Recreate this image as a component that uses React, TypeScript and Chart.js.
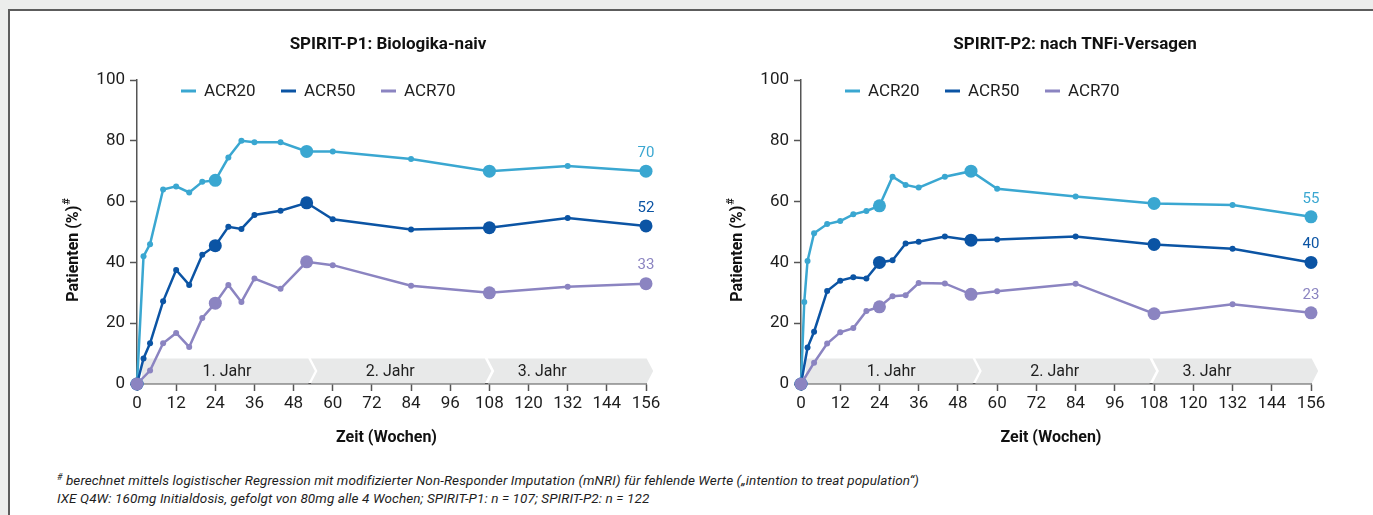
import React, { useEffect, useRef } from 'react';
import { Chart, registerables } from 'chart.js';

Chart.register(...registerables);

// ---------- data ----------
const SERIES_NAMES = ['ACR20', 'ACR50', 'ACR70'];
const SERIES_COLORS = ['#3aa7d1', '#0b54a4', '#8b84c1'];
const BIG_WEEKS = [0, 24, 52, 108, 156];

const X_MIN = 0;
const X_MAX = 156;
const X_STEP = 12;
const Y_MIN = 0;
const Y_MAX = 100;
const Y_STEP = 20;

// SPIRIT-P1
const P1_TITLE = 'SPIRIT-P1: Biologika-naiv';
const P1_ACR20_WEEKS = [0, 2, 4, 8, 12, 16, 20, 24, 28, 32, 36, 44, 52, 60, 84, 108, 132, 156];
const P1_ACR20 = [0, 42, 46, 64, 65, 63, 66.5, 67, 74.5, 80, 79.5, 79.5, 76.5, 76.5, 74, 70, 71.7, 70];
const P1_ACR50_WEEKS = [0, 2, 4, 8, 12, 16, 20, 24, 28, 32, 36, 44, 52, 60, 84, 108, 132, 156];
const P1_ACR50 = [0, 8.4, 13.4, 27.2, 37.5, 32.6, 42.5, 45.5, 51.7, 51, 55.6, 57, 59.6, 54.2, 50.8, 51.4, 54.6, 52];
const P1_ACR70_WEEKS = [0, 4, 8, 12, 16, 20, 24, 28, 32, 36, 44, 52, 60, 84, 108, 132, 156];
const P1_ACR70 = [0, 4.4, 13.4, 16.8, 12.2, 21.7, 26.6, 32.6, 27, 34.7, 31.3, 40.2, 39.1, 32.3, 30, 32, 33];

// SPIRIT-P2
const P2_TITLE = 'SPIRIT-P2: nach TNFi-Versagen';
const P2_ACR20_WEEKS = [0, 1, 2, 4, 8, 12, 16, 20, 24, 28, 32, 36, 44, 52, 60, 84, 108, 132, 156];
const P2_ACR20 = [0, 27, 40.5, 49.6, 52.6, 53.6, 55.8, 56.9, 58.6, 68.2, 65.5, 64.6, 68.2, 70, 64.2, 61.7, 59.4, 58.9, 55];
const P2_ACR50_WEEKS = [0, 2, 4, 8, 12, 16, 20, 24, 28, 32, 36, 44, 52, 60, 84, 108, 132, 156];
const P2_ACR50 = [0, 12, 17.2, 30.6, 34, 35.1, 34.7, 40, 40.7, 46.2, 46.8, 48.5, 47.3, 47.5, 48.5, 45.9, 44.5, 40];
const P2_ACR70_WEEKS = [0, 4, 8, 12, 16, 20, 24, 28, 32, 36, 44, 52, 60, 84, 108, 132, 156];
const P2_ACR70 = [0, 7, 13.3, 17, 18.4, 24, 25.4, 28.9, 29.2, 33.2, 33.1, 29.5, 30.5, 33, 23.1, 26.2, 23.4];

// year bands (in weeks)
const BAND_LABELS = ['1. Jahr', '2. Jahr', '3. Jahr'];
const BAND_STARTS = [1.5, 53.3, 107.5];
const BAND_ENDS = [54.5, 108.6, 158.2];
const BAND_LABEL_WEEKS = [27.6, 77.6, 124.2];
const BAND_HEIGHT = 8.4;

const Y_TITLE = 'Patienten (%)';
const Y_TITLE_SUP = '#';
const X_TITLE = 'Zeit (Wochen)';

const FONT = "Roboto, 'Liberation Sans', sans-serif";
const TEXT = '#1e1e1e';
const AXIS = '#555555';

type PanelDef = {
  title: string;
  weeks: number[][];
  values: number[][];
  canvasLeft: number;
  yWidth: number;
  padRight: number;
  titleX: number;
};

const PANELS: PanelDef[] = [
  {
    title: P1_TITLE,
    weeks: [P1_ACR20_WEEKS, P1_ACR50_WEEKS, P1_ACR70_WEEKS],
    values: [P1_ACR20, P1_ACR50, P1_ACR70],
    canvasLeft: 10,
    yWidth: 127,
    padRight: 44,
    titleX: 378,
  },
  {
    title: P2_TITLE,
    weeks: [P2_ACR20_WEEKS, P2_ACR50_WEEKS, P2_ACR70_WEEKS],
    values: [P2_ACR20, P2_ACR50, P2_ACR70],
    canvasLeft: 690,
    yWidth: 111,
    padRight: 59,
    titleX: 385,
  },
];

const CANVAS_W = 680;
const CANVAS_H = 440;
const CANVAS_TOP = 20;

const bandsPlugin = {
  id: 'yearBands',
  beforeDatasetsDraw(chart: any) {
    const { ctx, scales } = chart;
    const x = scales.x;
    const y = scales.y;
    const bottom = y.getPixelForValue(0) - 0.5;
    const top = y.getPixelForValue(BAND_HEIGHT);
    const mid = (top + bottom) / 2;
    const d = 6.5;
    ctx.save();
    ctx.fillStyle = '#e8e9e9';
    for (let i = 0; i < BAND_LABELS.length; i++) {
      const xs = x.getPixelForValue(BAND_STARTS[i]);
      const xe = x.getPixelForValue(BAND_ENDS[i]);
      ctx.beginPath();
      ctx.moveTo(xs, top);
      ctx.lineTo(xe - d, top);
      ctx.lineTo(xe, mid);
      ctx.lineTo(xe - d, bottom);
      ctx.lineTo(xs, bottom);
      if (i > 0) ctx.lineTo(xs + d, mid);
      ctx.closePath();
      ctx.fill();
    }
    ctx.fillStyle = TEXT;
    ctx.font = `16px ${FONT}`;
    ctx.textAlign = 'center';
    ctx.textBaseline = 'middle';
    for (let i = 0; i < BAND_LABELS.length; i++) {
      ctx.fillText(BAND_LABELS[i], x.getPixelForValue(BAND_LABEL_WEEKS[i]), mid + 1);
    }
    ctx.restore();
  },
};

const decorPlugin = {
  id: 'decor',
  afterDatasetsDraw(chart: any) {
    const { ctx } = chart;
    ctx.save();
    ctx.font = `15px ${FONT}`;
    ctx.textAlign = 'center';
    ctx.textBaseline = 'middle';
    chart.data.datasets.forEach((ds: any, i: number) => {
      const meta = chart.getDatasetMeta(i);
      const pts = meta.data;
      const last = pts[pts.length - 1];
      const raw = ds.data[ds.data.length - 1];
      ctx.fillStyle = ds.borderColor;
      ctx.fillText(String(Math.round(raw.y)), last.x, last.y - 18);
    });
    ctx.restore();
  },
  afterDraw(chart: any) {
    const { ctx, chartArea } = chart;
    const opts = chart.options.plugins.decor;
    ctx.save();
    // chart title
    ctx.fillStyle = '#111';
    ctx.font = `bold 17px ${FONT}`;
    ctx.textAlign = 'center';
    ctx.textBaseline = 'middle';
    ctx.fillText(opts.title, opts.titleX, 25);
    // x title
    ctx.font = `bold 16px ${FONT}`;
    ctx.fillText(X_TITLE, (chartArea.left + chartArea.right) / 2 - 5, chartArea.bottom + 54);
    // y title with superscript
    ctx.translate(chartArea.left - 63, (chartArea.top + chartArea.bottom) / 2 + 18);
    ctx.rotate(-Math.PI / 2);
    ctx.font = `bold 16px ${FONT}`;
    const w1 = ctx.measureText(Y_TITLE).width;
    ctx.font = `bold 11px ${FONT}`;
    const w2 = ctx.measureText(Y_TITLE_SUP).width;
    const start = -(w1 + w2 + 1) / 2;
    ctx.textAlign = 'left';
    ctx.font = `bold 16px ${FONT}`;
    ctx.fillText(Y_TITLE, start, 0);
    ctx.font = `bold 11px ${FONT}`;
    ctx.fillText(Y_TITLE_SUP, start + w1 + 1, -7);
    ctx.restore();

    // legend
    ctx.save();
    const lx = chartArea.left + 44;
    const ly = chartArea.top + 11;
    ctx.font = `17px ${FONT}`;
    ctx.textBaseline = 'middle';
    ctx.textAlign = 'left';
    SERIES_NAMES.forEach((name, i) => {
      const x0 = lx + i * 100;
      ctx.strokeStyle = SERIES_COLORS[i];
      ctx.lineWidth = 3;
      ctx.beginPath();
      ctx.moveTo(x0, ly);
      ctx.lineTo(x0 + 15, ly);
      ctx.stroke();
      ctx.fillStyle = TEXT;
      ctx.fillText(name, x0 + 23, ly + 1);
    });
    ctx.restore();
  },
};

function buildConfig(panel: PanelDef): any {
  const datasets = SERIES_NAMES.map((name, i) => {
    const weeks = panel.weeks[i];
    const vals = panel.values[i];
    const data = weeks.map((w, j) => ({ x: w, y: vals[j] }));
    const radius = weeks.map((w) => (BIG_WEEKS.includes(w) ? 6.5 : 3));
    return {
      label: name,
      data,
      borderColor: SERIES_COLORS[i],
      backgroundColor: SERIES_COLORS[i],
      pointBackgroundColor: SERIES_COLORS[i],
      pointBorderWidth: 0,
      pointRadius: radius,
      pointHoverRadius: radius,
      borderWidth: 2.5,
      tension: 0,
      clip: false,
      order: 3 - i,
    };
  });
  return {
    type: 'line',
    data: { datasets },
    plugins: [bandsPlugin, decorPlugin],
    options: {
      responsive: false,
      animation: false,
      events: [],
      layout: { padding: { top: 60, right: panel.padRight, bottom: 0, left: 0 } },
      plugins: {
        legend: { display: false },
        title: { display: false },
        tooltip: { enabled: false },
        decor: { title: panel.title, titleX: panel.titleX },
      },
      scales: {
        x: {
          type: 'linear',
          min: X_MIN,
          max: X_MAX,
          afterFit: (s: any) => {
            s.height = 76;
          },
          ticks: {
            stepSize: X_STEP,
            color: TEXT,
            font: { family: FONT, size: 17 },
            padding: 3,
            maxRotation: 0,
            autoSkip: false,
          },
          grid: {
            display: true,
            drawOnChartArea: false,
            drawTicks: true,
            tickLength: 7,
            tickColor: AXIS,
            tickWidth: 1.5,
          },
          border: { display: true, color: AXIS, width: 1.5 },
        },
        y: {
          min: Y_MIN,
          max: Y_MAX,
          afterFit: (s: any) => {
            s.width = panel.yWidth;
          },
          ticks: {
            stepSize: Y_STEP,
            color: TEXT,
            font: { family: FONT, size: 17 },
            padding: 5,
          },
          grid: {
            display: true,
            drawOnChartArea: false,
            drawTicks: true,
            tickLength: 7,
            tickColor: AXIS,
            tickWidth: 1.5,
          },
          border: { display: true, color: AXIS, width: 1.5 },
        },
      },
    },
  };
}

function ChartPanel({ panel }: { panel: PanelDef }) {
  const ref = useRef<HTMLCanvasElement | null>(null);
  useEffect(() => {
    if (!ref.current) return;
    const chart = new Chart(ref.current, buildConfig(panel));
    return () => chart.destroy();
  }, [panel]);
  return (
    <canvas
      ref={ref}
      width={CANVAS_W}
      height={CANVAS_H}
      style={{
        position: 'absolute',
        left: panel.canvasLeft,
        top: CANVAS_TOP,
        width: CANVAS_W,
        height: CANVAS_H,
      }}
    />
  );
}

export default function App() {
  return (
    <div
      style={{
        position: 'fixed',
        left: 0,
        top: 0,
        width: 1373,
        height: 515,
        overflow: 'hidden',
        background: '#ecedec',
        fontFamily: FONT,
      }}
    >
      <div
        style={{
          position: 'absolute',
          left: 8,
          top: 9,
          width: 1373,
          height: 515,
          background: '#ffffff',
          borderTop: '2px solid #5c5c5c',
          borderLeft: '2px solid #5c5c5c',
        }}
      />
      {PANELS.map((p, i) => (
        <ChartPanel key={i} panel={p} />
      ))}
      <div
        style={{
          position: 'absolute',
          left: 57,
          top: 471,
          fontStyle: 'italic',
          fontSize: 13.5,
          lineHeight: '18px',
          color: '#1e1e1e',
          letterSpacing: '0.1px',
          whiteSpace: 'nowrap',
        }}
      >
        <div>
          <sup style={{ fontSize: 9, verticalAlign: 'top', position: 'relative', top: -3 }}>#</sup>{' '}
          berechnet mittels logistischer Regression mit modifizierter Non-Responder Imputation (mNRI) für fehlende Werte („intention to treat population“)
        </div>
        <div>IXE Q4W: 160mg Initialdosis, gefolgt von 80mg alle 4 Wochen; SPIRIT-P1: n = 107; SPIRIT-P2: n = 122</div>
      </div>
    </div>
  );
}
